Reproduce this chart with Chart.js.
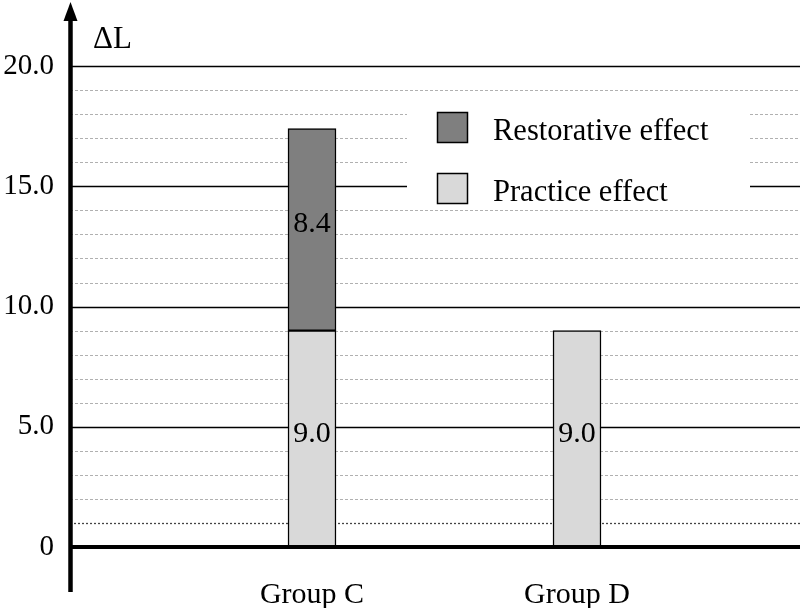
<!DOCTYPE html>
<html>
<head>
<meta charset="utf-8">
<script src="https://cdn.jsdelivr.net/npm/chart.js@4.4.1/dist/chart.umd.min.js"></script>
<style>
html,body{margin:0;padding:0;background:#fff;}
#wrap{width:800px;height:608px;}
</style>
</head>
<body>
<div id="wrap"><canvas id="c" width="800" height="608"></canvas></div>
<script>
const categories = ['Group C', 'Group D'];
const categoryPositions = [1, 2];
const practiceEffect = [9.0, 9.0];
const restorativeEffect = [8.4, null];
const seriesNames = ['Restorative effect', 'Practice effect'];
const yTickValues = [0, 5, 10, 15, 20];
const yAxisTitle = 'ΔL';

const FONT = '"Liberation Serif", "Times New Roman", serif';
const DARK = '#7f7f7f';
const LIGHT = '#d9d9d9';

const toPoints = vals => vals.map((v, i) => ({x: categoryPositions[i], y: v}));

const decorPlugin = {
  id: 'decor',
  beforeDatasetsDraw(chart) {
    const ctx = chart.ctx;
    const y = chart.scales.y, a = chart.chartArea;
    ctx.save();
    for (let v = 1; v <= 20; v++) {
      const py = Math.round(y.getPixelForValue(v)) + 0.5;
      ctx.beginPath();
      if (v % 5 === 0) {
        ctx.setLineDash([]);
        ctx.strokeStyle = '#000';
        ctx.lineWidth = 1.6;
      } else if (v === 1) {
        ctx.setLineDash([2, 2]);
        ctx.strokeStyle = '#444';
        ctx.lineWidth = 1.3;
      } else {
        ctx.setLineDash([3, 2]);
        ctx.strokeStyle = '#b0b0b0';
        ctx.lineWidth = 1;
      }
      ctx.moveTo(a.left, py);
      ctx.lineTo(a.right, py);
      ctx.stroke();
    }
    ctx.restore();
  },
  afterDatasetsDraw(chart) {
    const ctx = chart.ctx;
    const y = chart.scales.y, a = chart.chartArea;
    ctx.save();
    // value labels
    ctx.font = '30px ' + FONT;
    ctx.fillStyle = '#000';
    ctx.textAlign = 'center';
    ctx.textBaseline = 'middle';
    chart.data.datasets.forEach((ds, di) => {
      const meta = chart.getDatasetMeta(di);
      meta.data.forEach((bar, i) => {
        const v = ds.data[i].y;
        if (v == null) return;
        const cy = (bar.y + bar.base) / 2 - 5;
        ctx.fillText(v.toFixed(1), bar.x, cy);
      });
    });
    // zero line
    const y0 = y.getPixelForValue(0);
    ctx.setLineDash([]);
    ctx.strokeStyle = '#000';
    ctx.lineWidth = 4;
    ctx.beginPath();
    ctx.moveTo(a.left, y0);
    ctx.lineTo(a.right, y0);
    ctx.stroke();
    // y axis with arrow
    ctx.lineWidth = 4.5;
    ctx.beginPath();
    ctx.moveTo(a.left + 0.5, 592);
    ctx.lineTo(a.left + 0.5, 16);
    ctx.stroke();
    ctx.fillStyle = '#000';
    ctx.beginPath();
    ctx.moveTo(a.left + 0.5, 2);
    ctx.lineTo(a.left - 6.5, 21);
    ctx.lineTo(a.left + 7.5, 21);
    ctx.closePath();
    ctx.fill();
    // axis title
    ctx.font = '31px ' + FONT;
    ctx.textAlign = 'left';
    ctx.textBaseline = 'alphabetic';
    ctx.fillText(yAxisTitle, 93, 48);
    // legend
    ctx.fillStyle = '#fff';
    ctx.fillRect(407, 96, 343, 110);
    const cols = [DARK, LIGHT];
    const tops = [112, 173];
    ctx.font = '30.5px ' + FONT;
    seriesNames.forEach((n, i) => {
      ctx.fillStyle = cols[i];
      ctx.fillRect(437.5, tops[i] + 0.5, 30, 30);
      ctx.strokeStyle = '#000';
      ctx.lineWidth = 1.5;
      ctx.strokeRect(437.5, tops[i] + 0.5, 30, 30);
      ctx.fillStyle = '#000';
      ctx.textBaseline = 'alphabetic';
      ctx.fillText(n, 493, tops[i] + 28);
    });
    ctx.restore();
  }
};

new Chart(document.getElementById('c'), {
  type: 'bar',
  data: {
    datasets: [
      {
        label: 'Practice effect',
        data: toPoints(practiceEffect),
        backgroundColor: LIGHT,
        borderColor: '#000',
        borderWidth: 1.5,
        borderSkipped: false,
        barThickness: 48,
        grouped: false,
        stack: 's'
      },
      {
        label: 'Restorative effect',
        data: toPoints(restorativeEffect),
        backgroundColor: DARK,
        borderColor: '#000',
        borderWidth: 1.5,
        borderSkipped: false,
        barThickness: 48,
        grouped: false,
        stack: 's'
      }
    ]
  },
  options: {
    responsive: false,
    animation: false,
    devicePixelRatio: 1,
    layout: {padding: {top: 18, left: 0, right: 0, bottom: 0}},
    plugins: {legend: {display: false}, tooltip: {enabled: false}},
    scales: {
      x: {
        type: 'linear',
        offset: false,
        min: 0.0868,
        max: 2.8415,
        grid: {display: false, drawTicks: false, offset: false},
        border: {display: false},
        afterBuildTicks: s => { s.ticks = categoryPositions.map(v => ({value: v})); },
        afterFit: s => { s.height = 61; s.paddingLeft = 0; s.paddingRight = 0; },
        ticks: {
          padding: 30,
          color: '#000',
          font: {family: FONT, size: 30},
          callback: v => categories[categoryPositions.indexOf(v)] || ''
        }
      },
      y: {
        stacked: true,
        min: 0,
        max: 22,
        grid: {display: false, drawTicks: false},
        border: {display: false},
        afterBuildTicks: s => { s.ticks = yTickValues.map(v => ({value: v})); },
        afterFit: s => { s.width = 70; s.paddingTop = 0; s.paddingBottom = 0; },
        ticks: {
          padding: 16,
          color: '#000',
          font: {family: FONT, size: 29},
          callback: v => v === 0 ? '0' : v.toFixed(1)
        }
      }
    }
  },
  plugins: [decorPlugin]
});
</script>
</body>
</html>
